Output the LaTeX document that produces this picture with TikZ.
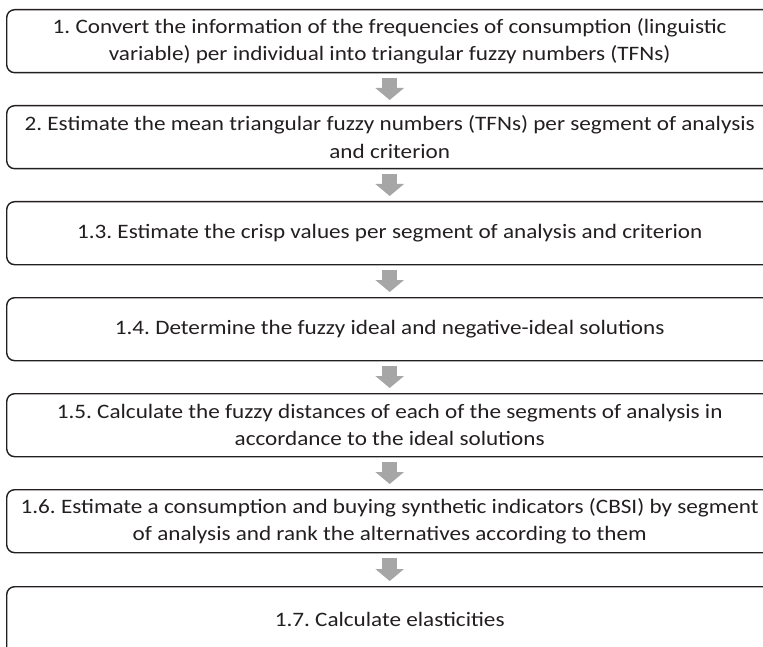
\documentclass[tikz,border=0pt]{standalone}
\usepackage{fontspec}
\setmainfont{Carlito}[FakeStretch=1.13]
\usetikzlibrary{arrows.meta}
\definecolor{arrowgray}{HTML}{A6A6A6}
\definecolor{edgeblack}{HTML}{231F20}
\tikzset{
  stepbox/.style={draw=edgeblack, line width=1.4pt, rounded corners=8pt, fill=white,
    minimum width=766pt, minimum height=63pt, inner sep=0pt, align=center,
    anchor=north west, font=\fontsize{20.5pt}{27.5pt}\selectfont\frenchspacing, text=edgeblack},
  flowarrow/.style={draw=arrowgray, line width=15pt,
    -{Triangle[width=28pt,length=12pt]}, shorten <=5pt, shorten >=5pt}
}
\begin{document}
\begin{tikzpicture}[x=1pt,y=1pt]
\useasboundingbox (0,0) rectangle (763,-647);
\clip (0,0) rectangle (763,-647);
\node[stepbox] (b1) at (6,-9) {1. Convert the information of the frequencies of consumption (linguistic\\variable) per individual into triangular fuzzy numbers (TFNs)};
\node[stepbox] (b2) at (6,-105) {2. Estimate the mean triangular fuzzy numbers (TFNs) per segment of analysis\\and criterion};
\node[stepbox] (b3) at (6,-201) {1.3. Estimate the crisp values per segment of analysis and criterion};
\node[stepbox] (b4) at (6,-297) {1.4. Determine the fuzzy ideal and negative-ideal solutions};
\node[stepbox] (b5) at (6,-393) {1.5. Calculate the fuzzy distances of each of the segments of analysis in\\accordance to the ideal solutions};
\node[stepbox] (b6) at (6,-489) {1.6. Estimate a consumption and buying synthetic indicators (CBSI) by segment\\of analysis and rank the alternatives according to them};
\node[stepbox, minimum height=70pt] (b7) at (6,-586) {\raisebox{4pt}{1.7. Calculate elasticities}};
\draw[flowarrow] (b1.south) -- (b2.north);
\draw[flowarrow] (b2.south) -- (b3.north);
\draw[flowarrow] (b3.south) -- (b4.north);
\draw[flowarrow] (b4.south) -- (b5.north);
\draw[flowarrow] (b5.south) -- (b6.north);
\draw[flowarrow] (b6.south) -- (b7.north);
\end{tikzpicture}
\end{document}
